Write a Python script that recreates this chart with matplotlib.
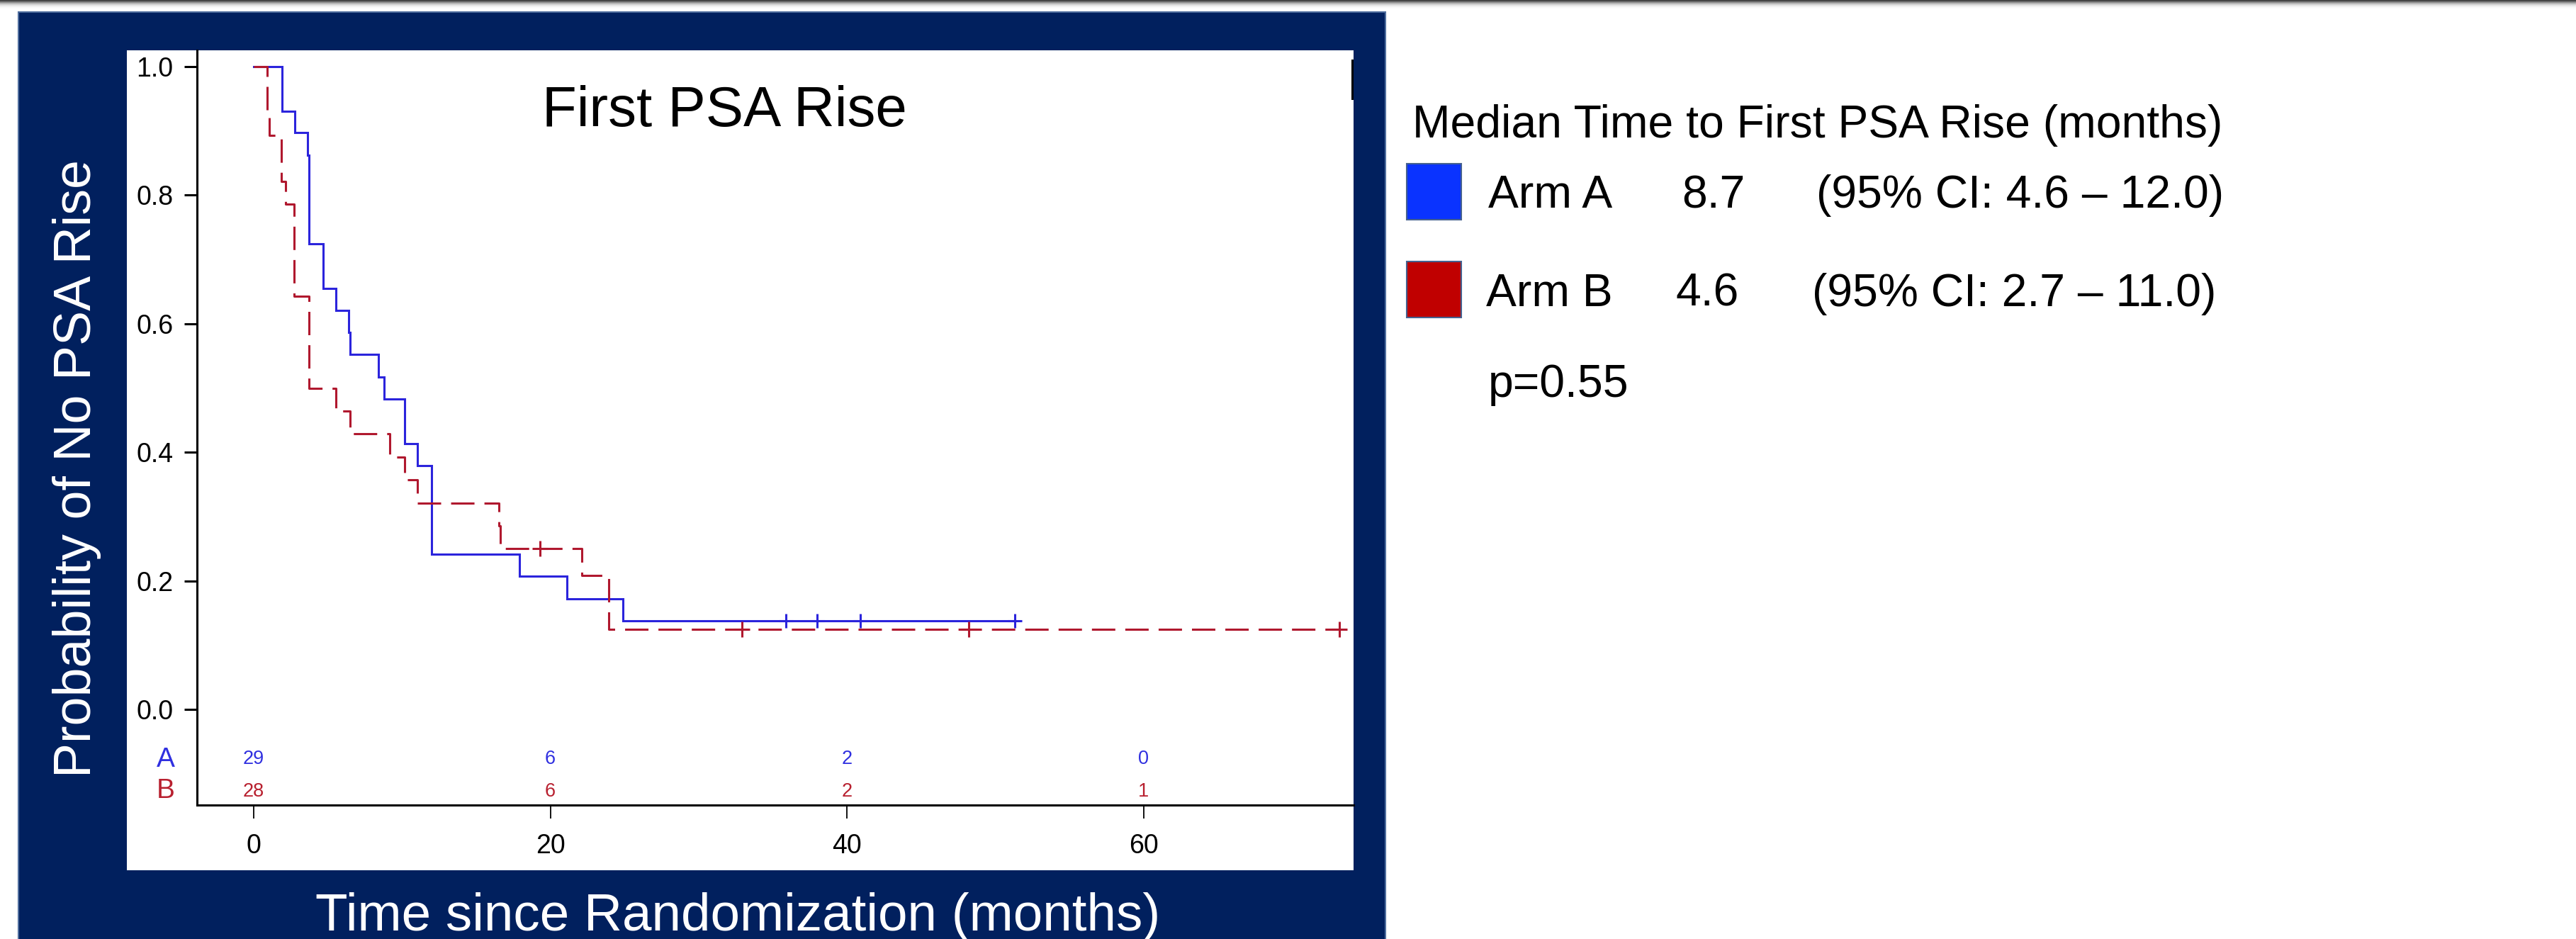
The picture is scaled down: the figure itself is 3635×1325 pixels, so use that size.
import numpy as np
import matplotlib
matplotlib.use("Agg")
import matplotlib.pyplot as plt
from matplotlib.patches import Rectangle
from matplotlib.transforms import blended_transform_factory

plt.rcParams['font.family'] = ['Liberation Sans', 'DejaVu Sans']

# ---------------- data ----------------
# Arm A (blue, solid) Kaplan-Meier steps
times_a = [0, 1.90, 2.76, 3.62, 3.74, 4.70, 5.56, 6.40, 6.51, 8.39, 8.77, 10.20, 11.04, 12.01, 17.90, 21.12, 24.91]
surv_a = [1.0, 0.931, 0.897, 0.862, 0.724, 0.655, 0.621, 0.586, 0.552, 0.517, 0.483, 0.414, 0.379, 0.241, 0.207, 0.172, 0.138]
censor_a = [35.90, 38.00, 40.91, 51.33]

# Arm B (red, dashed) Kaplan-Meier steps
times_b = [0, 0.92, 1.07, 1.88, 2.17, 2.74, 3.74, 5.56, 6.51, 9.19, 10.20, 11.04, 16.52, 16.64, 22.14, 23.95]
surv_b = [1.0, 0.929, 0.893, 0.821, 0.786, 0.643, 0.500, 0.464, 0.429, 0.393, 0.357, 0.321, 0.286, 0.250, 0.208, 0.125]
censor_b = [19.32, 32.93, 48.22, 73.20]

# numbers at risk
risk_times = [0, 20, 40, 60]
risk_a = [29, 6, 2, 0]
risk_b = [28, 6, 2, 1]

x_ticks = [0, 20, 40, 60]
y_ticks = [0.0, 0.2, 0.4, 0.6, 0.8, 1.0]

arm_names = ["Arm A", "Arm B"]
medians = ["8.7", "4.6"]
cis = ["(95% CI: 4.6 \u2013 12.0)", "(95% CI: 2.7 \u2013 11.0)"]
p_value = "p=0.55"

title = "First PSA Rise"
xlabel = "Time since Randomization (months)"
ylabel = "Probability of No PSA Rise"
legend_title = "Median Time to First PSA Rise (months)"

# ---------------- style ----------------
W, H = 3635, 1325
NAVY = '#01205E'
BLUE_LINE = '#2B24DC'
RED_LINE = '#B0182E'
BLUE_SQ = '#0A33FF'
RED_SQ = '#C00000'

fig = plt.figure(figsize=(W / 100, H / 100), dpi=100)
fig.patch.set_facecolor('white')


def fx(x):
    return x / W


def fy(y):
    return 1 - y / H


def rect(x0, y0, x1, y1, **kw):
    r = Rectangle((fx(x0), fy(y1)), fx(x1) - fx(x0), fy(y0) - fy(y1),
                  transform=fig.transFigure, **kw)
    fig.add_artist(r)
    return r


# top gray gradient bar
gax = fig.add_axes([0, fy(17), 1, 17 / H], zorder=-5)
grad_vals = np.array([60, 85, 115, 145, 172, 195, 212, 226, 236, 244, 249, 252, 254, 255, 255, 255, 255]) / 255.0
gax.imshow(np.tile(grad_vals[:, None], (1, 10)), cmap='gray', vmin=0, vmax=1,
           aspect='auto', interpolation='bilinear', extent=[0, 1, 0, 1])
gax.axis('off')

# navy panel and white plot box
rect(26, 17, 1955, 1330, facecolor=NAVY, edgecolor='#4F6E9E', lw=1.5, zorder=-4)
rect(179, 71, 1910, 1228, facecolor='white', edgecolor='none', zorder=-3)
rect(1907, 84, 1910, 141, facecolor='black', edgecolor='none', zorder=-2)

# ---------------- axes ----------------
px_per_month = 20.93
x_zero_px = 358.0
y_one_px, y_zero_px = 94.0, 1001.0
ax_left, ax_right, ax_top, ax_bottom = 277.5, 1910.0, 71.0, 1136.0

ax = fig.add_axes([fx(ax_left), fy(ax_bottom), fx(ax_right) - fx(ax_left), fy(ax_top) - fy(ax_bottom)])
ax.set_facecolor('none')
ax.set_xlim((ax_left - x_zero_px) / px_per_month, (ax_right - x_zero_px) / px_per_month)
ppu = (y_zero_px - y_one_px)
ax.set_ylim((y_zero_px - ax_bottom) / ppu, (y_zero_px - ax_top) / ppu)

for s in ['top', 'right']:
    ax.spines[s].set_visible(False)
ax.spines['left'].set_linewidth(2.2)
ax.spines['bottom'].set_linewidth(2.2)

ax.set_xticks(x_ticks)
ax.set_xticklabels([str(v) for v in x_ticks])
ax.set_yticks(y_ticks)
ax.set_yticklabels([f"{v:.1f}" for v in y_ticks])
tick_font = ['Liberation Sans Narrow', 'Liberation Sans', 'DejaVu Sans']
for lab in ax.get_xticklabels() + ax.get_yticklabels():
    lab.set_family(tick_font)
ax.tick_params(axis='y', direction='out', length=13, width=2.2, pad=11, labelsize=27)
ax.tick_params(axis='x', direction='out', length=14, width=1.3, pad=15, labelsize=27)

lw = 2.2
# Arm A
ax.step(times_a + [censor_a[-1]], surv_a + [surv_a[-1]], where='post',
        color=BLUE_LINE, lw=lw, zorder=3, solid_joinstyle='miter')
ax.plot(censor_a, [surv_a[-1]] * len(censor_a), ls='none', marker='+', ms=15,
        mew=2.2, color=BLUE_LINE, zorder=3)
# Arm B
ax.step(times_b + [censor_b[-1]], surv_b + [surv_b[-1]], where='post',
        color=RED_LINE, lw=lw, zorder=4, linestyle=(0, (10.8, 4.6)))
censor_b_levels = [surv_b[-3]] + [surv_b[-1]] * (len(censor_b) - 1)
ax.plot(censor_b, censor_b_levels, ls='none', marker='+', ms=16.5,
        mew=2.2, color=RED_LINE, zorder=4)

# numbers at risk
tr = blended_transform_factory(ax.transData, fig.transFigure)
for t, na, nb in zip(risk_times, risk_a, risk_b):
    ax.text(t, fy(1077.7), str(na), transform=tr, ha='center', va='baseline',
            fontsize=19.5, color='#3030E0', family=tick_font, clip_on=False)
    ax.text(t, fy(1124), str(nb), transform=tr, ha='center', va='baseline',
            fontsize=19.5, color='#B8202F', family=tick_font, clip_on=False)
fig.text(fx(234), fy(1081.5), "A", ha='center', va='baseline', fontsize=28,
         color='#3030E0', family=tick_font)
fig.text(fx(234), fy(1126.5), "B", ha='center', va='baseline', fontsize=28,
         color='#B8202F', family=tick_font)

# titles / labels
fig.text(fx(765), fy(178), title, ha='left', va='baseline', fontsize=57.5, color='black')
fig.text(fx(1041.5), fy(1313), xlabel, ha='center', va='baseline', fontsize=53.8, color='white')
fig.text(fx(128), fy(661), ylabel, ha='center', va='baseline', rotation=90,
         rotation_mode='anchor', fontsize=53, color='white')

# ---------------- right-hand legend ----------------
LFS = 46.3
fig.text(fx(1993), fy(194), legend_title, ha='left', va='baseline', fontsize=LFS, color='black')
sq_colors = [BLUE_SQ, RED_SQ]
row_base = [293, 432]
sq_top = [231, 369]
name_x = [2100, 2097]
med_x = [2373, 2364]
ci_x = [2563, 2557]
for i in range(2):
    rect(1985, sq_top[i], 2062, sq_top[i] + 79, facecolor=sq_colors[i],
         edgecolor='#45618F', lw=1.5, zorder=2)
    fig.text(fx(name_x[i]), fy(row_base[i]), arm_names[i], ha='left', va='baseline', fontsize=LFS)
    fig.text(fx(med_x[i]), fy(row_base[i]), medians[i], ha='left', va='baseline', fontsize=LFS)
    fig.text(fx(ci_x[i]), fy(row_base[i]), cis[i], ha='left', va='baseline', fontsize=LFS)
fig.text(fx(2100), fy(560), p_value, ha='left', va='baseline', fontsize=LFS)

fig.savefig('out.png', dpi=100, facecolor='white')
